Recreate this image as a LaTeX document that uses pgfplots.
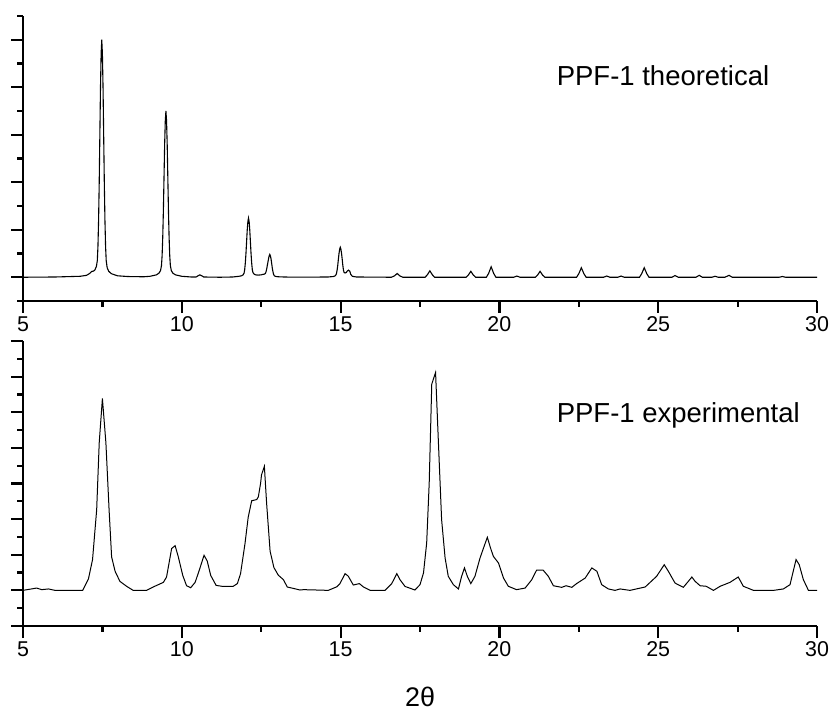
\documentclass[border=0pt]{standalone}
\usepackage{fontspec}
\setmainfont{Liberation Sans}
\usepackage{pgfplots}
\pgfplotsset{compat=1.18}
\begin{document}
\begin{tikzpicture}[x=1bp,y=1bp]
\pgfplotsset{
  pxrd/.style={
    scale only axis, width=794bp, height=285bp,
    xmin=5, xmax=30,
    axis x line*=bottom, axis y line*=left,
    xtick={5,10,...,30}, minor xtick={7.5,12.5,...,27.5},
    tick align=outside,
    major tick length=12bp, minor tick length=6bp,
    axis line style={line width=2bp, black},
    every tick/.style={line width=2.2bp, black},
    major tick style={line width=2.2bp, black},
    minor tick style={line width=2.2bp, black},
    yticklabels={},
    xticklabel style={font=\fontsize{21.5}{22}\selectfont},
    /pgf/number format/assume math mode=true,
    clip=false,
  }
}
% ---------------- top: theoretical ----------------
\begin{axis}[pxrd, at={(23bp,412bp)}, anchor=south west,
  ymin=-1, ymax=11, ytick={0,2,...,10}, minor ytick={-1,1,...,11}]
\addplot[black, line width=1.1bp] coordinates {
(5.0,0) (6.0,0.01) (6.8,0.04) (7.0,0.08) (7.1,0.16) (7.16,0.24) (7.22,0.26) (7.26,0.3) (7.31,0.45) (7.34,0.7) (7.36,1.3) (7.38,2.4) (7.40,4.0) (7.42,6.0) (7.44,8.0) (7.46,9.4) (7.48,10) (7.50,9.4) (7.52,8.0) (7.54,6.0) (7.56,4.0) (7.58,2.4) (7.60,1.3) (7.62,0.7) (7.65,0.4) (7.70,0.25) (7.78,0.15) (7.98,0.06) (8.3,0.03) (8.8,0.02)
(9.0,0.04) (9.2,0.1) (9.28,0.17) (9.33,0.28) (9.36,0.49) (9.38,0.91) (9.40,1.68) (9.42,2.8) (9.44,4.2) (9.46,5.6) (9.48,6.58) (9.50,7.0) (9.52,6.58) (9.54,5.6) (9.56,4.2) (9.58,2.8) (9.60,1.68) (9.62,0.91) (9.64,0.49) (9.67,0.28) (9.72,0.17) (9.8,0.1) (10.0,0.04) (10.3,0.01)
(10.45,0.01) (10.51,0.06) (10.57,0.1) (10.63,0.06) (10.69,0.01) (11.2,0)
(11.6,0.01) (11.8,0.04) (11.88,0.06) (11.93,0.1) (11.96,0.17) (11.98,0.32) (12.00,0.6) (12.02,1.0) (12.04,1.49) (12.06,1.99) (12.08,2.34) (12.10,2.49) (12.12,2.34) (12.14,1.99) (12.16,1.49) (12.18,1.0) (12.20,0.6) (12.22,0.32) (12.24,0.2) (12.27,0.14) (12.32,0.1) (12.40,0.09) (12.5,0.1)
(12.55,0.12) (12.60,0.13) (12.63,0.16) (12.65,0.22) (12.67,0.33) (12.69,0.48) (12.71,0.62) (12.73,0.77) (12.75,0.9) (12.77,0.96) (12.79,0.9) (12.81,0.77) (12.83,0.58) (12.85,0.38) (12.87,0.23) (12.89,0.12) (12.91,0.07) (12.94,0.04) (12.99,0.025) (13.1,0.015) (13.4,0.005) (14.0,0.005)
(14.6,0.01) (14.77,0.03) (14.82,0.05) (14.85,0.09) (14.87,0.16) (14.89,0.3) (14.91,0.5) (14.93,0.76) (14.95,1.0) (14.97,1.18) (14.99,1.26) (15.01,1.18) (15.03,1.0) (15.05,0.76) (15.07,0.5) (15.09,0.3) (15.11,0.2) (15.14,0.18) (15.18,0.2) (15.21,0.26) (15.25,0.3) (15.29,0.25) (15.32,0.12) (15.37,0.04) (15.5,0.01)
(16.6,0) (16.7,0.06) (16.78,0.16) (16.86,0.06) (16.96,0)
(17.66,0) (17.73,0.1) (17.81,0.27) (17.89,0.1) (17.96,0)
(18.95,0) (19.02,0.09) (19.10,0.25) (19.18,0.09) (19.25,0)
(19.59,0) (19.66,0.16) (19.74,0.44) (19.82,0.16) (19.89,0)
(20.45,0) (20.55,0.05) (20.65,0)
(21.13,0) (21.2,0.09) (21.28,0.25) (21.36,0.09) (21.43,0)
(22.43,0) (22.5,0.15) (22.58,0.4) (22.66,0.15) (22.73,0)
(23.28,0) (23.38,0.05) (23.48,0)
(23.73,0) (23.83,0.05) (23.93,0)
(24.41,0) (24.48,0.15) (24.56,0.4) (24.64,0.15) (24.71,0)
(25.43,0) (25.53,0.07) (25.63,0)
(26.19,0) (26.29,0.08) (26.39,0)
(26.69,0) (26.79,0.04) (26.89,0)
(27.1,0) (27.23,0.08) (27.33,0)
(28.81,0) (28.91,0.03) (29.01,0)
(30.0,0)
};
\node[anchor=base west, inner sep=0pt, font=\fontsize{27.6}{30}\selectfont] at (axis cs:21.8,8.08) {PPF-1 theoretical};
\end{axis}
% ---------------- bottom: experimental ----------------
\begin{axis}[pxrd, at={(23bp,87bp)}, anchor=south west,
  ymin=-2, ymax=14, ytick={-2,0,...,14}, minor ytick={-1,1,...,13},
  xlabel={2θ},
  xlabel style={font=\fontsize{27}{28}\selectfont, at={(axis description cs:0.5,-0.284)}, anchor=base}]
\addplot[black, line width=1bp] coordinates {
(5.0,0) (5.43,0.13) (5.59,0.04) (5.80,0.08) (6.01,0) (6.37,0) (6.88,0)
(7.06,0.64) (7.19,1.73) (7.32,4.54) (7.40,8.29) (7.50,10.77) (7.61,8.29) (7.71,4.54) (7.79,1.88) (7.90,1.07) (8.05,0.51) (8.26,0.23) (8.47,0) (8.89,0)
(9.10,0.19) (9.42,0.45) (9.52,0.75) (9.68,2.35) (9.79,2.51) (9.89,1.88) (10.03,0.84) (10.15,0.26) (10.28,0.15)
(10.42,0.45) (10.55,1.13) (10.70,1.97) (10.80,1.65) (10.91,0.84) (11.08,0.28) (11.26,0.23) (11.62,0.23)
(11.75,0.38) (11.85,0.94) (11.99,2.63) (12.09,4.1) (12.20,5.03) (12.36,5.1) (12.41,5.25) (12.48,6.0) (12.51,6.49) (12.60,6.96) (12.67,4.9) (12.78,2.2) (12.90,1.28) (13.04,0.85) (13.20,0.6) (13.32,0.19) (13.56,0.09) (13.72,0.02) (13.83,0.04) (14.25,0.02) (14.61,0)
(14.88,0.2) (14.98,0.38) (15.14,0.94) (15.24,0.8) (15.40,0.3) (15.59,0.38) (15.72,0.19) (15.93,0) (16.40,0)
(16.61,0.38) (16.77,0.94) (16.87,0.6) (17.03,0.22) (17.34,0.02)
(17.50,0.32) (17.61,0.98) (17.71,2.66) (17.79,6.04) (17.87,11.58) (17.99,12.23) (18.08,8.29) (18.18,3.98) (18.29,1.82) (18.39,0.79) (18.55,0.32) (18.71,0.08)
(18.81,0.79) (18.90,1.26) (18.99,0.79) (19.10,0.38) (19.23,0.79) (19.39,1.82) (19.52,2.48) (19.62,2.98) (19.72,2.38) (19.81,1.91) (19.97,1.54) (20.13,0.69) (20.28,0.23) (20.54,0.04) (20.81,0.13)
(21.02,0.6) (21.17,1.13) (21.38,1.13) (21.54,0.79) (21.70,0.26) (21.96,0.17) (22.10,0.26) (22.28,0.17) (22.43,0.38) (22.70,0.69) (22.91,1.26) (23.07,1.07) (23.22,0.32) (23.43,0.08) (23.64,0) (23.80,0.08) (24.11,0)
(24.59,0.19) (24.95,0.79) (25.19,1.44) (25.32,1.07) (25.53,0.41) (25.79,0.17) (25.95,0.51) (26.06,0.75) (26.16,0.51) (26.32,0.26) (26.51,0.23) (26.74,0)
(26.95,0.23) (27.26,0.45) (27.52,0.75) (27.68,0.23) (28.0,0) (28.63,0) (28.94,0.08) (29.15,0.32) (29.34,1.73) (29.44,1.44) (29.57,0.6) (29.73,0) (30.0,0)
};
\node[anchor=base west, inner sep=0pt, font=\fontsize{27.6}{30}\selectfont] at (axis cs:21.8,9.41) {PPF-1 experimental};
\end{axis}
\pgfresetboundingbox
\path[use as bounding box] (0,0) rectangle (834,713);
\end{tikzpicture}
\end{document}
